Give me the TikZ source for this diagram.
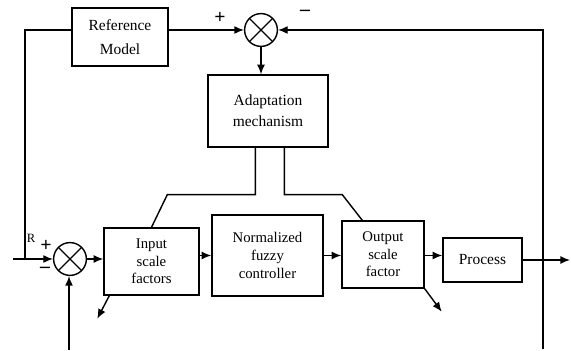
\documentclass[tikz,border=0pt]{standalone}
\usepackage{fontspec}
\setmainfont{Liberation Serif}
\usepackage{tikz}
\usetikzlibrary{arrows.meta,calc,positioning}

\begin{document}
\begin{tikzpicture}[x=0.25mm, y=-0.25mm,
      box/.style={rectangle, draw=black, line width=1pt, align=center, inner sep=1pt, font=\fontsize{10.5}{12.5}\selectfont},
      sumcirc/.style={circle, draw=black, line width=1pt, inner sep=0pt, minimum size=8.2mm,
        path picture={\draw[line width=0.9pt] (path picture bounding box.south west) -- (path picture bounding box.north east)
          (path picture bounding box.north west) -- (path picture bounding box.south east);}},
      arr/.style={-{Latex[length=2.4mm, width=2mm]}, line width=1pt},
      sgn/.style={font=\fontsize{14}{14}\selectfont\bfseries, inner sep=1pt}
    ]
      \useasboundingbox (0,0) rectangle (571,351);

      % Top loop: reference model and error
      \node[box, minimum width=24mm, minimum height=14.5mm, font=\fontsize{11}{17.5}\selectfont] (refmodel) at (120,37) {Reference\\Model};
      \node[sumcirc] (sumtop) at (261,30) {};
      \node[box, minimum width=30mm, minimum height=18mm, font=\fontsize{11}{15}\selectfont] (adapt) at (268,111) {Adaptation\\mechanism};

      % Main loop: controller chain
      \node[sumcirc] (sumbot) at (70,259) {};
      \node[box, minimum width=23.75mm, minimum height=16.75mm] (inscale) at (151.5,261.5) {Input\\scale\\factors};
      \node[box, minimum width=27.75mm, minimum height=20.25mm] (fuzzy) at (267.5,255.5) {Normalized\\fuzzy\\controller};
      \node[box, minimum width=20.5mm, minimum height=16.75mm] (outscale) at (383,254.5) {Output\\scale\\factor};
      \node[box, minimum width=19.75mm, minimum height=11mm, font=\fontsize{11}{13}\selectfont] (process) at (482.5,260) {Process};

      % Free ends
      \coordinate (rin) at (13,259);
      \coordinate (rjoin) at (25,259);
      \coordinate (fbin) at (69,350);
      \coordinate (yout) at (570,260);
      \coordinate (fbbot) at (543,349);
      \coordinate (fbtop) at (543,30);
      \coordinate (inout) at ($(inscale.south west)+(-6,23)$);
      \coordinate (outout) at ($(outscale.south east)+(17,23)$);

      % Signs and labels
      \node[sgn] (plustop) at (220,18) {+};
      \node[sgn] (minustop) at (305,13) {--};
      \node[font=\fontsize{9}{9}\selectfont, inner sep=1pt] (rlabel) at (31,238) {R};
      \node[sgn] (plusbot) at (46,246) {+};
      \node[sgn] (minusbot) at (45,270) {--};

      % Top loop paths
      \draw[arr] (refmodel.east |- sumtop) -- (sumtop.west);
      \draw[line width=1pt] (refmodel.west |- sumtop) -| (rjoin);
      \draw[arr] (fbbot) -- (fbtop) -- (sumtop.east);
      \draw[arr] (sumtop.south) -- (adapt.north -| sumtop);

      % Adaptation outputs
      \draw[line width=1pt] (adapt.south west) ++(48,0) -- ++(0,47) -- ++(-88,0) -- (inscale.north);
      \draw[line width=1pt] (adapt.south west) ++(77,0) -- ++(0,47) -- ++(58,0) -- ($(outscale.north west)+(21,0)$);

      % Forward chain
      \draw[arr] (rin) -- (sumbot.west);
      \draw[arr] (fbin) -- (sumbot.south -| fbin);
      \draw[arr] (sumbot.east) -- (inscale.west |- sumbot);
      \draw[arr] (inscale.east |- fuzzy) -- (fuzzy.west);
      \draw[arr] (fuzzy.east) -- (outscale.west |- fuzzy);
      \draw[arr] (outscale.east |- fuzzy) -- (process.west |- fuzzy);
      \draw[arr] (process.east) -- (yout);
      \draw[arr] ($(inscale.south west)+(6,0)$) -- (inout);
      \draw[arr] (outscale.south east) -- (outout);
    \end{tikzpicture}
\end{document}
